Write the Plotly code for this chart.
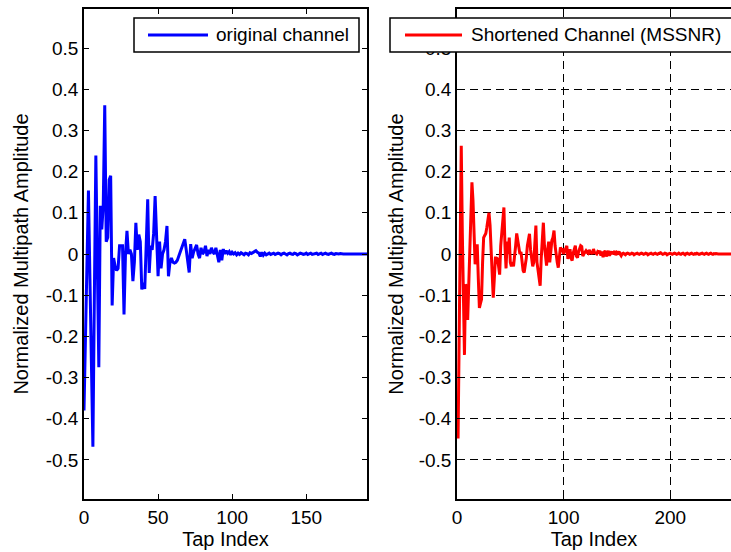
import plotly.graph_objects as go

W, H = 731, 552

# ---------------- data ----------------
orig_channel = [
    -0.38, -0.20, -0.02, 0.154, -0.06, -0.27, -0.468, -0.10, 0.239, -0.02,
    -0.275, 0.117, 0.06, 0.12, 0.361, 0.03, 0.04, 0.18, 0.19, -0.125,
    -0.01, -0.03, -0.04, -0.035, 0.02, 0.02, 0.02, -0.147, 0.0, 0.056,
    0.0, 0.01, 0.0, -0.066, -0.02, 0.076, 0.01, 0.047, 0.03, -0.086,
    -0.07, -0.085, 0.02, 0.133, -0.046, 0.02, 0.01, 0.05, 0.141, 0.02,
    -0.054, 0.03, -0.035, 0.0, 0.01, 0.03, 0.068, -0.054, -0.02, -0.01,
    -0.02, -0.022, -0.02, -0.015, -0.005, 0.01, 0.02, 0.03, 0.036, 0.01,
    -0.02, -0.045, 0.024, -0.01, 0.005, 0.015, 0.022, 0.0, -0.01, 0.015,
    0.0, 0.005, 0.02, -0.005, 0.01, 0.0, 0.015, 0.005, 0.0, 0.015,
    -0.005, -0.02, 0.01, -0.015, 0.012, 0.0, 0.008, 0.002, 0.006, -0.002,
    0.004, 0.0, 0.003, -0.002, 0.002, -0.001, 0.003, 0.0, -0.002, 0.002,
    0.001, -0.002, 0.003, 0.001, 0.004, 0.006, 0.008, 0.004, 0.002, -0.006,
    0.004, -0.003, 0.002, -0.002, 0.001, 0.002, -0.001, 0.001, 0.002, -0.001,
    0.0, 0.002, 0.001, -0.002, 0.001, 0.002, 0.0, -0.002, 0.001, 0.002,
    0.0, -0.001, 0.002, 0.001, -0.002, 0.0, 0.002, 0.001, -0.001, 0.0,
    0.002, -0.001, 0.001, 0.002, -0.001, 0.0, 0.001, 0.002, -0.001, 0.0,
    0.002, -0.001, 0.001, 0.002, 0.0, -0.001, 0.001, 0.002, 0.0, -0.001,
    0.001, 0.0, 0.0, 0.001, 0.0, 0.0, 0.0, 0.0, 0.0, 0.0,
    0.0, 0.0, 0.0, 0.0, 0.0, 0.0, 0.0, 0.0, 0.0, 0.0,
    0.0, 0.0,
]
orig_taps = list(range(len(orig_channel)))

short_channel = [
    -0.354, -0.448, -0.21, 0.03, 0.263, 0.05, -0.12, -0.245, -0.074, -0.08,
    -0.16, -0.07, 0.03, 0.13, 0.174, 0.13, 0.07, -0.025, 0.02, 0.02,
    -0.06, -0.131, -0.12, -0.11, -0.02, 0.04, 0.045, 0.05, 0.065, 0.08,
    0.10, 0.07, 0.02, -0.04, -0.106, -0.06, -0.01, -0.01, -0.012, -0.03,
    -0.05, 0.02, 0.05, 0.08, 0.113, 0.02, -0.035, 0.03, 0.0, 0.04,
    -0.02, -0.03, -0.02, -0.03, -0.01, 0.02, 0.05, 0.03, 0.01, 0.0,
    0.005, -0.02, -0.04, -0.045, -0.03, -0.01, 0.02, 0.04, 0.049, 0.01,
    -0.02, -0.03, -0.02, 0.03, 0.069, -0.02, -0.04, -0.06, -0.077, -0.01,
    0.03, 0.076, 0.02, -0.01, -0.028, 0.01, 0.03, -0.02, 0.01, 0.033,
    0.04, 0.057, 0.02, -0.01, -0.02, -0.033, 0.0, 0.016, 0.01, 0.013,
    0.0, 0.008, 0.012, 0.02, -0.012, 0.005, 0.012, -0.01, -0.016, 0.002,
    0.01, 0.02, -0.005, -0.009, 0.005, 0.012, 0.02, 0.018, -0.005, 0.0,
    0.006, 0.008, 0.004, 0.002, 0.01, 0.003, 0.004, 0.0, 0.012, 0.004,
    0.002, 0.0, 0.006, 0.004, 0.008, -0.004, 0.006, -0.008, 0.004, 0.008,
    -0.006, 0.005, 0.008, -0.004, 0.003, 0.006, 0.0, 0.004, 0.007, -0.003,
    0.004, 0.002, 0.006, 0.0, -0.004, 0.001, 0.002, 0.0, -0.002, 0.001,
    0.002, 0.001, -0.001, 0.0, 0.002, 0.001, -0.002, 0.0, 0.001, 0.002,
    0.0, -0.001, 0.001, 0.002, 0.001, -0.001, 0.0, 0.002, 0.001, -0.002,
    0.0, 0.001, 0.002, 0.0, -0.001, 0.001, 0.002, 0.0, -0.001, 0.001,
    0.002, 0.003, 0.001, -0.001, 0.0, 0.002, 0.001, -0.002, 0.0, 0.001,
    0.002, 0.0, -0.001, 0.001, 0.002, 0.001, -0.001, 0.0, 0.002, 0.0,
    -0.001, 0.001, 0.002, 0.0, -0.002, 0.001, 0.002, 0.0, -0.001, 0.001,
    0.002, 0.0, -0.001, 0.001, 0.0, 0.002, 0.001, -0.001, 0.0, 0.001,
    0.002, 0.0, -0.001, 0.001, 0.002, 0.0, -0.001, 0.001, 0.002, 0.0,
    -0.001, 0.001, 0.0, 0.001, 0.0, 0.0, 0.0, 0.0, 0.0, 0.0,
    0.0, 0.0, 0.0, 0.0, 0.0, 0.0, 0.0, 0.0, 0.0,
]
short_taps = list(range(len(short_channel)))

y_ticks = [-0.5, -0.4, -0.3, -0.2, -0.1, 0, 0.1, 0.2, 0.3, 0.4, 0.5]
y_tick_text = ["-0.5", "-0.4", "-0.3", "-0.2", "-0.1", "0", "0.1", "0.2", "0.3", "0.4", "0.5"]
x1_ticks = [0, 50, 100, 150]
x2_ticks = [0, 100, 200]

name1 = "original channel"
name2 = "Shortened Channel (MSSNR)"
ytitle = "Normalized Multipath Amplitude"
xtitle = "Tap Index"

# ---------------- figure ----------------
FONT = "Liberation Sans, Arial, Helvetica, sans-serif"
BLUE = "#0000ff"
RED = "#ff0000"

def px(x):
    return x / W

def py(y):
    return 1 - y / H

fig = go.Figure()
fig.add_trace(go.Scatter(x=orig_taps, y=orig_channel, mode="lines", name=name1,
                         line=dict(color=BLUE, width=3), xaxis="x", yaxis="y",
                         showlegend=False))
fig.add_trace(go.Scatter(x=short_taps, y=short_channel, mode="lines", name=name2,
                         line=dict(color=RED, width=3), xaxis="x2", yaxis="y2",
                         showlegend=False))

ydom = [py(499), py(9)]
axis_common = dict(
    showline=True, linecolor="black", linewidth=1.5,
    ticks="inside", ticklen=5, tickwidth=1, tickcolor="black",
    tickfont=dict(family=FONT, size=19, color="black"),
    zeroline=False,
)

fig.update_layout(
    width=W, height=H,
    margin=dict(l=0, r=0, t=0, b=0, autoexpand=False),
    paper_bgcolor="white", plot_bgcolor="white",
    font=dict(family=FONT, color="black"),
    showlegend=False,
    xaxis=dict(domain=[px(84), px(367)], range=[0, 191], anchor="y",
               tickvals=x1_ticks, mirror="ticks", showgrid=False,
               title=dict(text=xtitle, font=dict(size=20), standoff=3),
               **axis_common),
    yaxis=dict(domain=ydom, range=[-0.595, 0.595], anchor="x",
               tickvals=y_ticks, ticktext=y_tick_text, mirror="ticks", showgrid=False,
               title=dict(text=ytitle, font=dict(size=20), standoff=12),
               **axis_common),
    xaxis2=dict(domain=[px(457), 1.0], range=[0, 257], anchor="y2",
                tickvals=x2_ticks, mirror="ticks", showgrid=True,
                gridcolor="black", gridwidth=1, griddash="8px,5px",
                title=dict(text=xtitle, font=dict(size=20), standoff=3),
                **axis_common),
    yaxis2=dict(domain=ydom, range=[-0.595, 0.595], anchor="x2",
                tickvals=y_ticks, ticktext=y_tick_text, mirror=False, showgrid=True,
                gridcolor="black", gridwidth=1, griddash="8px,5px",
                title=dict(text=ytitle, font=dict(size=20), standoff=10),
                **axis_common),
)

# ---------------- legends (boxes drawn in layout) ----------------
shapes = []
annotations = []
legends = [
    dict(x0=134, x1=359, lx0=148, lx1=208, tx=214, color=BLUE, text=name1),
    dict(x0=390, x1=740, lx0=405, lx1=462, tx=469, color=RED, text=name2),
]
for lg in legends:
    shapes.append(dict(type="rect", xref="paper", yref="paper",
                       x0=px(lg["x0"]), x1=px(lg["x1"]), y0=py(52), y1=py(18),
                       fillcolor="white", line=dict(color="black", width=1.5),
                       layer="above"))
    shapes.append(dict(type="line", xref="paper", yref="paper",
                       x0=px(lg["lx0"]), x1=px(lg["lx1"]), y0=py(35), y1=py(35),
                       line=dict(color=lg["color"], width=3), layer="above"))
    annotations.append(dict(xref="paper", yref="paper", x=px(lg["tx"]), y=py(35),
                            xanchor="left", yanchor="middle", showarrow=False,
                            text=lg["text"], font=dict(family=FONT, size=19, color="black")))

fig.update_layout(shapes=shapes, annotations=annotations)

fig.write_html("out.html")
